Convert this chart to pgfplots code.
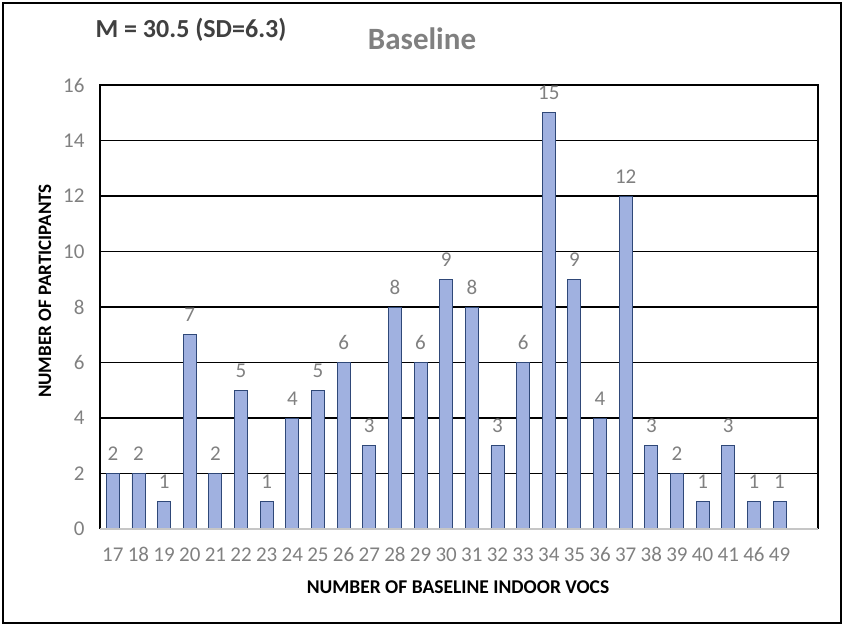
\documentclass[border=0pt]{standalone}
\usepackage{pgfplots}
\pgfplotsset{compat=1.18}
\usepackage{fontspec}
\setmainfont{Carlito}
\definecolor{tickgray}{RGB}{128,128,128}
\definecolor{darktxt}{RGB}{64,64,64}
\definecolor{baredge}{RGB}{47,72,120}
\definecolor{barfill}{RGB}{160,177,224}
\begin{document}
\begin{tikzpicture}[x=1pt,y=1pt]
\useasboundingbox (0,0) rectangle (844,625);
\draw[line width=1.4pt] (3,2) rectangle (841,622);
\begin{axis}[
  at={(100pt,96pt)}, anchor=south west,
  width=718pt, height=444pt, scale only axis,
  ybar, bar width=13pt,
  xmin=-0.5, xmax=27.5, ymin=0, ymax=16,
  ytick={0,2,...,16},
  xtick={0,...,26},
  xticklabels={17,18,19,20,21,22,23,24,25,26,27,28,29,30,31,32,33,34,35,36,37,38,39,40,41,46,49},
  major tick length=0pt,
  /pgf/number format/assume math mode=true,
  ticklabel style={font=\fontsize{21}{23}\selectfont, text=tickgray},
  xticklabel style={yshift=-15pt},
  yticklabel style={xshift=-12pt},
  ymajorgrids, grid style={black, line width=1.3pt},
  axis line style={draw=none},
  nodes near coords,
  every node near coord/.append style={font=\fontsize{21}{23}\selectfont, text=tickgray, yshift=9pt},
  clip=false,
]
\addplot[draw=baredge, line width=0.9pt, fill=barfill] coordinates {
(0,2) (1,2) (2,1) (3,7) (4,2) (5,5) (6,1) (7,4) (8,5) (9,6) (10,3) (11,8) (12,6) (13,9) (14,8) (15,3) (16,6) (17,15) (18,9) (19,4) (20,12) (21,3) (22,2) (23,1) (24,3) (25,1) (26,1)
};
\draw[black, line width=1.4pt] (rel axis cs:0,0) -- (rel axis cs:0,1) -- (rel axis cs:1,1) -- (rel axis cs:1,0);
\draw[gray!45, line width=1.6pt] (rel axis cs:0,0) -- (rel axis cs:1,0);
\end{axis}
\node[font=\fontsize{19}{21}\selectfont\bfseries, rotate=90] at (45,334) {NUMBER OF PARTICIPANTS};
\node[font=\fontsize{19.5}{21}\selectfont\bfseries] at (458,38) {NUMBER OF BASELINE INDOOR VOCS};
\node[font=\fontsize{31}{33}\selectfont\bfseries, text=tickgray] at (422,586) {Baseline};
\node[font=\fontsize{26}{28}\selectfont\bfseries, text=darktxt] at (191,595) {M = 30.5 (SD=6.3)};
\end{tikzpicture}
\end{document}
